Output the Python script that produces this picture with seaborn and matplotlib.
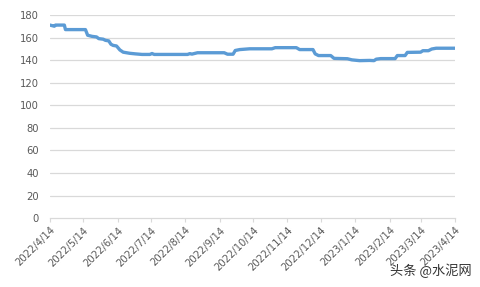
import matplotlib
matplotlib.use("Agg")
import matplotlib.pyplot as plt
import seaborn as sns
import pandas as pd

dates = ["2022-04-14", "2022-04-16", "2022-04-18", "2022-04-19", "2022-04-27", "2022-04-28",
         "2022-05-16", "2022-05-18", "2022-05-22", "2022-05-26", "2022-05-28", "2022-06-01",
         "2022-06-03", "2022-06-06", "2022-06-08", "2022-06-10", "2022-06-13", "2022-06-16",
         "2022-06-19", "2022-06-25", "2022-06-30", "2022-07-06", "2022-07-13", "2022-07-15",
         "2022-07-17", "2022-08-16", "2022-08-18", "2022-08-20", "2022-08-25", "2022-09-18",
         "2022-09-21", "2022-09-26", "2022-09-28", "2022-10-02", "2022-10-11", "2022-10-31",
         "2022-11-03", "2022-11-22", "2022-11-25", "2022-12-07", "2022-12-09", "2022-12-12",
         "2022-12-23", "2022-12-26", "2023-01-07", "2023-01-11", "2023-01-18", "2023-01-27",
         "2023-01-31", "2023-02-02", "2023-02-06", "2023-02-19", "2023-02-21", "2023-02-28",
         "2023-03-02", "2023-03-14", "2023-03-16", "2023-03-21", "2023-03-24", "2023-03-28",
         "2023-04-14"]
values = [171, 170.5, 170, 171, 171, 167,
          167, 162, 161, 160.5, 159, 158.5,
          157.5, 157, 154, 153, 152.5, 149,
          147, 146, 145.5, 145, 145, 145.8,
          145, 145, 145.7, 145.3, 146.5, 146.5,
          145.2, 145.2, 148.5, 149.3, 150, 150,
          151, 151, 149.3, 149.3, 145.5, 144,
          144, 141.5, 141.2, 140.2, 139.5, 139.7,
          139.5, 140.8, 141.3, 141.3, 144, 144,
          146.8, 147, 148.3, 148.3, 149.8, 150.5,
          150.5]
tick_dates = ["2022-04-14", "2022-05-14", "2022-06-14", "2022-07-14", "2022-08-14", "2022-09-14",
              "2022-10-14", "2022-11-14", "2022-12-14", "2023-01-14", "2023-02-14", "2023-03-14",
              "2023-04-14"]
tick_labels = ["2022/4/14", "2022/5/14", "2022/6/14", "2022/7/14", "2022/8/14", "2022/9/14",
               "2022/10/14", "2022/11/14", "2022/12/14", "2023/1/14", "2023/2/14", "2023/3/14",
               "2023/4/14"]
y_ticks = [0, 20, 40, 60, 80, 100, 120, 140, 160, 180]

sns.set_style("white")
plt.rcParams['font.family'] = ['DejaVu Sans']

df = pd.DataFrame({"date": pd.to_datetime(dates), "value": values})

fig = plt.figure(figsize=(4.8, 2.87), dpi=100)
ax = fig.add_axes([0.104, 0.240, 0.844, 0.708])

for yv in y_ticks[1:]:
    ax.axhline(yv, color="#D9D9D9", lw=0.9, zorder=0)

sns.lineplot(data=df, x="date", y="value", ax=ax, color="#5B9BD5", lw=2.4)

ax.set_ylim(0, 180)
ax.set_xlim(pd.Timestamp(tick_dates[0]), pd.Timestamp(tick_dates[-1]))
ax.set_yticks(y_ticks)
ax.set_yticklabels([str(v) for v in y_ticks], color="#595959", fontsize=7.2)
ax.set_xticks(pd.to_datetime(tick_dates))
ax.set_xticklabels(tick_labels, rotation=45, ha="right", rotation_mode="anchor",
                   color="#595959", fontsize=7.2)
ax.set_xlabel("")
ax.set_ylabel("")
for s in ["top", "right", "left"]:
    ax.spines[s].set_visible(False)
ax.spines["bottom"].set_color("#D9D9D9")
ax.spines["bottom"].set_linewidth(0.9)
ax.tick_params(axis="x", which="major", length=3, color="#D9D9D9", pad=2, bottom=True)
ax.tick_params(axis="y", length=0, pad=8)

fig.text(0.983, 0.03, "头条 @水泥网", ha="right", va="bottom", fontsize=9.5,
         color="#333333", family=["Noto Sans CJK SC", "DejaVu Sans"])

fig.savefig("out.png", dpi=100)
